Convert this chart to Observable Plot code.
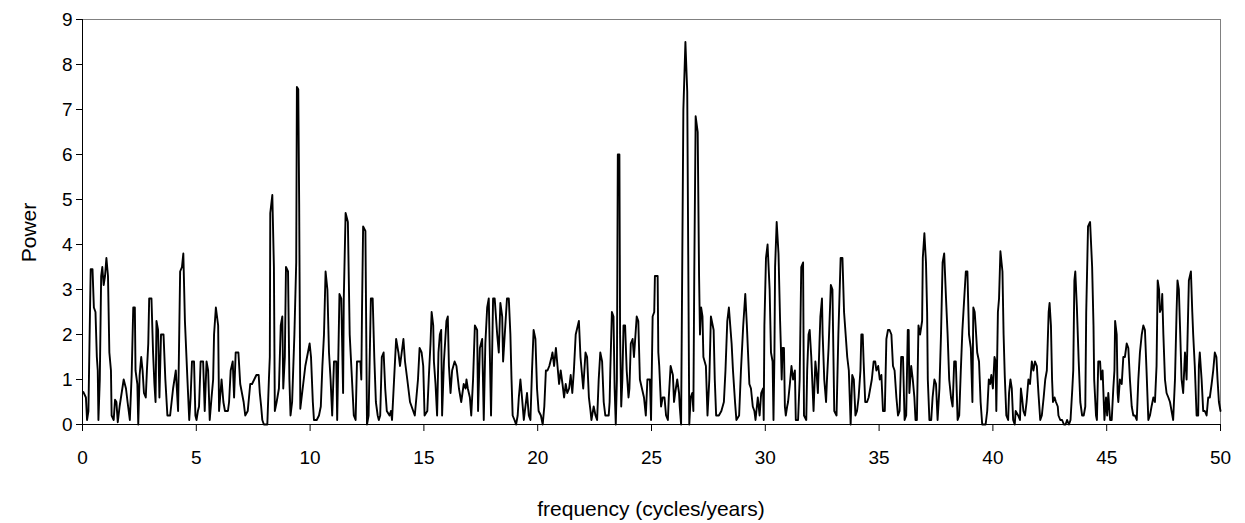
<!DOCTYPE html>
<html><head><meta charset="utf-8">
<script src="https://cdn.jsdelivr.net/npm/d3@7"></script>
<script src="https://cdn.jsdelivr.net/npm/@observablehq/plot@0.6"></script>
<style>html,body{margin:0;padding:0;background:#fff;} svg{display:block}</style>
</head><body><div id="chart"></div>
<script>
// [frequency (cycles/years), power] vertices
const band0_10 = [
[0.04,0.72],[0.15,0.6],[0.2,0.1],[0.26,0.3],[0.31,1.9],[0.36,3.45],[0.44,3.45],[0.5,2.6],[0.57,2.5],[0.63,1.5],
[0.67,1.2],[0.7,0.1],[0.76,1.0],[0.82,3.3],[0.87,3.5],[0.93,3.1],[0.99,3.3],[1.05,3.7],[1.12,3.3],[1.18,1.6],
[1.25,1.2],[1.28,0.2],[1.37,0.1],[1.43,0.55],[1.49,0.5],[1.55,0.05],[1.63,0.4],[1.72,0.7],[1.81,1.0],[1.91,0.8],
[1.98,0.5],[2.08,0.1],[2.16,1.1],[2.23,2.6],[2.3,2.6],[2.33,1.2],[2.41,0.9],[2.45,0.0],[2.51,1.1],[2.58,1.5],
[2.64,1.2],[2.7,0.7],[2.78,0.6],[2.83,1.2],[2.89,1.8],[2.93,2.8],[3.03,2.8],[3.1,1.6],[3.16,0.9],[3.21,0.5],
[3.25,2.3],[3.32,2.1],[3.38,0.6],[3.45,2.0],[3.56,2.0],[3.64,1.0],[3.73,0.2],[3.85,0.2],[3.98,0.8],[4.1,1.2],
[4.2,0.3],[4.29,3.4],[4.37,3.5],[4.43,3.8],[4.5,2.3],[4.61,1.0],[4.69,0.1],[4.75,0.6],[4.81,1.4],[4.9,1.4],
[4.96,0.2],[5.01,0.1],[5.07,0.3],[5.12,0.4],[5.19,1.4],[5.3,1.4],[5.37,0.3],[5.45,1.4],[5.52,1.2],[5.59,0.1],
[5.67,0.6],[5.74,1.0],[5.78,2.0],[5.86,2.6],[5.96,2.2],[6.0,0.3],[6.11,1.0],[6.19,0.5],[6.26,0.3],[6.39,0.3],
[6.44,0.5],[6.51,1.2],[6.6,1.4],[6.66,0.6],[6.73,1.6],[6.85,1.6],[6.93,0.9],[7.08,0.5],[7.15,0.2],[7.26,0.3],
[7.37,0.9],[7.45,0.9],[7.64,1.1],[7.74,1.1],[7.79,0.7],[7.85,0.4],[7.9,0.1],[7.97,0.0],[8.12,0.0],[8.19,1.0],
[8.23,1.5],[8.25,4.7],[8.34,5.1],[8.41,3.5],[8.45,0.3],[8.53,0.5],[8.63,0.8],[8.71,2.2],[8.78,2.4],[8.82,0.8],
[8.89,1.5],[8.94,3.5],[9.03,3.4],[9.09,1.0],[9.14,0.2],[9.21,0.5],[9.31,2.0],[9.39,3.6],[9.42,7.5],[9.48,7.45],
[9.52,4.9],[9.57,0.35],[9.79,1.3],[9.98,1.8]
];
const band10_20 = [
[10.04,1.5],[10.12,0.5],[10.17,0.1],[10.29,0.1],[10.39,0.2],[10.47,0.4],[10.54,1.3],[10.61,2.0],[10.68,3.4],[10.76,3.0],
[10.83,1.6],[10.9,1.0],[10.97,0.2],[11.05,1.4],[11.15,1.4],[11.19,0.1],[11.29,2.9],[11.37,2.8],[11.45,0.7],[11.48,2.8],
[11.56,4.7],[11.66,4.5],[11.74,2.0],[11.82,1.2],[11.92,0.2],[12.0,0.1],[12.06,1.4],[12.21,1.4],[12.25,1.0],[12.28,2.5],
[12.33,4.4],[12.43,4.3],[12.5,0.0],[12.57,0.2],[12.67,2.8],[12.75,2.8],[12.82,1.5],[12.89,0.5],[12.97,0.2],[13.02,0.1],
[13.08,0.2],[13.15,1.5],[13.23,1.6],[13.3,0.8],[13.37,0.3],[13.49,0.2],[13.55,0.3],[13.6,0.1],[13.69,1.0],[13.78,1.9],
[13.88,1.6],[13.95,1.3],[14.1,1.9],[14.17,1.4],[14.27,1.0],[14.39,0.5],[14.53,0.3],[14.6,0.2],[14.74,1.0],[14.81,1.7],
[14.9,1.6],[14.97,1.3],[15.03,0.2],[15.15,0.3],[15.22,1.1],[15.29,1.8],[15.34,2.5],[15.41,2.2],[15.44,1.4],[15.51,0.9],
[15.58,0.2],[15.64,1.6],[15.7,2.0],[15.76,2.1],[15.8,0.2],[15.88,1.4],[15.99,2.3],[16.05,2.4],[16.1,1.3],[16.17,0.7],
[16.24,1.2],[16.35,1.4],[16.43,1.3],[16.54,0.8],[16.64,0.5],[16.75,0.9],[16.83,0.8],[16.87,1.0],[16.93,0.8],[17.02,0.6],
[17.08,0.2],[17.16,1.0],[17.24,2.2],[17.34,2.1],[17.38,0.3],[17.46,1.7],[17.56,1.9],[17.63,0.1],[17.7,1.8],[17.78,2.6],
[17.85,2.8],[17.95,0.2],[18.04,2.8],[18.11,2.8],[18.22,2.0],[18.29,1.6],[18.36,2.7],[18.44,2.4],[18.48,1.4],[18.65,2.8],
[18.73,2.8],[18.8,2.0],[18.85,1.0],[18.9,0.2],[18.98,0.1],[19.05,0.0],[19.12,0.2],[19.17,0.6],[19.24,1.0],[19.31,0.6],
[19.39,0.1],[19.46,0.4],[19.53,0.7],[19.61,0.2],[19.68,0.1],[19.75,1.2],[19.82,2.1],[19.9,1.9],[19.97,0.8]
];
const band20_30 = [
[20.04,0.3],[20.14,0.2],[20.22,0.0],[20.29,0.4],[20.36,1.2],[20.43,1.2],[20.51,1.3],[20.61,1.5],[20.65,1.6],[20.72,1.3],
[20.8,1.7],[20.87,1.3],[20.94,0.9],[21.01,1.2],[21.09,0.9],[21.16,0.6],[21.23,0.9],[21.3,0.7],[21.38,0.8],[21.45,1.1],
[21.52,0.7],[21.59,1.2],[21.67,2.0],[21.81,2.3],[21.88,1.5],[22.0,0.8],[22.1,1.6],[22.17,1.5],[22.25,0.6],[22.32,0.3],
[22.36,0.1],[22.46,0.4],[22.54,0.2],[22.61,0.1],[22.68,1.0],[22.75,1.6],[22.83,1.4],[22.9,0.5],[22.97,0.2],[23.12,0.2],
[23.16,0.5],[23.19,1.2],[23.26,2.5],[23.33,2.4],[23.38,0.8],[23.43,0.0],[23.48,1.0],[23.52,6.0],[23.59,6.0],[23.62,2.0],
[23.67,0.4],[23.72,1.0],[23.77,2.2],[23.84,2.2],[23.91,1.2],[23.99,0.6],[24.03,0.8],[24.09,1.8],[24.17,1.9],[24.23,1.5],
[24.35,2.4],[24.42,2.3],[24.49,1.0],[24.67,0.6],[24.75,0.2],[24.82,1.0],[24.93,1.0],[24.98,0.1],[25.05,2.4],[25.12,2.5],
[25.15,3.3],[25.27,3.3],[25.3,1.6],[25.34,1.3],[25.42,0.4],[25.49,0.6],[25.57,0.6],[25.64,0.2],[25.72,0.1],[25.76,0.6],
[25.84,1.3],[25.94,1.1],[25.99,0.5],[26.04,0.7],[26.13,1.0],[26.21,0.7],[26.24,0.4],[26.3,0.0],[26.4,7.0],[26.49,8.5],
[26.57,7.4],[26.66,0.0],[26.72,0.6],[26.79,0.7],[26.84,0.3],[26.88,3.4],[26.94,6.85],[27.03,6.5],[27.09,3.3],[27.13,2.0],
[27.18,2.6],[27.24,2.4],[27.28,1.5],[27.39,1.3],[27.46,0.2],[27.54,1.0],[27.61,2.4],[27.73,2.1],[27.78,1.0],[27.84,0.2],
[27.96,0.2],[28.07,0.3],[28.18,0.5],[28.25,1.2],[28.33,2.3],[28.4,2.6],[28.52,1.8],[28.58,1.2],[28.67,0.5],[28.73,0.1],
[28.85,0.2],[28.93,1.2],[29.03,2.2],[29.12,2.9],[29.19,2.2],[29.3,0.9],[29.37,0.8],[29.45,0.4],[29.52,0.3],[29.57,0.1],
[29.67,0.6],[29.75,0.2],[29.82,0.7],[29.9,0.8],[29.93,0.1],[29.96,2.2]
];
const band30_40 = [
[30.03,3.7],[30.1,4.0],[30.19,3.0],[30.25,1.6],[30.32,1.4],[30.36,0.1],[30.4,1.5],[30.43,3.5],[30.5,4.5],[30.58,3.8],
[30.65,2.3],[30.68,1.8],[30.72,1.0],[30.76,1.7],[30.82,1.7],[30.86,0.4],[30.9,0.2],[30.96,0.4],[31.0,0.5],[31.08,0.9],
[31.15,1.3],[31.22,1.0],[31.3,1.2],[31.34,0.1],[31.44,0.1],[31.51,1.0],[31.58,3.5],[31.66,3.6],[31.7,0.2],[31.8,0.1],
[31.84,1.2],[31.9,2.0],[31.95,2.1],[32.02,1.5],[32.12,0.3],[32.2,1.4],[32.26,1.1],[32.31,0.7],[32.38,1.8],[32.42,2.4],
[32.49,2.8],[32.52,2.0],[32.59,1.0],[32.67,0.5],[32.71,1.0],[32.78,1.7],[32.88,3.1],[32.95,3.0],[33.03,0.3],[33.13,0.2],
[33.21,2.0],[33.31,3.7],[33.39,3.7],[33.46,2.5],[33.53,2.0],[33.6,1.5],[33.67,1.2],[33.75,0.0],[33.82,1.1],[33.89,1.0],
[33.96,0.2],[34.03,0.3],[34.1,0.6],[34.18,1.2],[34.22,2.0],[34.28,2.0],[34.32,1.4],[34.39,0.5],[34.47,0.5],[34.54,0.6],
[34.61,0.8],[34.68,1.0],[34.76,1.4],[34.83,1.4],[34.88,1.2],[34.96,1.3],[35.03,1.0],[35.1,1.1],[35.17,0.3],[35.25,0.3],
[35.32,1.9],[35.39,2.1],[35.46,2.1],[35.54,2.0],[35.61,1.3],[35.68,1.2],[35.76,0.6],[35.83,0.2],[35.9,0.3],[35.97,1.5],
[36.05,1.5],[36.12,0.1],[36.19,0.2],[36.26,2.1],[36.3,2.1],[36.33,0.7],[36.41,1.3],[36.48,1.0],[36.55,0.6],[36.6,0.1],
[36.66,0.1],[36.73,2.2],[36.8,2.0],[36.89,2.3],[36.92,3.7],[36.99,4.25],[37.06,3.6],[37.11,2.5],[37.14,1.0],[37.21,0.1],
[37.29,0.1],[37.35,0.6],[37.43,1.0],[37.5,0.9],[37.57,0.1],[37.65,0.8],[37.72,2.0],[37.79,3.6],[37.86,3.8],[37.94,2.8],
[38.01,2.0],[38.08,1.0],[38.16,0.6],[38.23,0.4],[38.3,1.4],[38.37,1.4],[38.45,0.1],[38.52,0.2],[38.59,1.2],[38.66,2.1],
[38.74,2.8],[38.81,3.4],[38.88,3.4],[38.95,2.0],[39.03,1.7],[39.1,0.5],[39.14,2.6],[39.2,2.5],[39.24,2.2],[39.31,1.6],
[39.39,1.4],[39.46,0.5],[39.53,0.0],[39.6,0.0],[39.68,0.0],[39.75,0.3],[39.82,1.0],[39.88,0.9],[39.93,1.1]
];
const band40_50 = [
[40.0,0.8],[40.07,1.5],[40.12,1.4],[40.15,0.3],[40.22,2.5],[40.27,2.8],[40.33,3.85],[40.42,3.4],[40.47,2.0],[40.52,1.1],
[40.59,0.2],[40.67,0.1],[40.71,0.7],[40.77,1.0],[40.83,0.8],[40.89,0.1],[40.96,0.0],[41.0,0.3],[41.11,0.2],[41.19,0.1],
[41.23,0.8],[41.28,0.6],[41.34,0.3],[41.41,0.2],[41.48,0.5],[41.56,1.0],[41.63,0.9],[41.71,1.4],[41.78,1.2],[41.85,1.4],
[41.93,1.3],[42.0,0.7],[42.08,0.1],[42.15,0.2],[42.23,0.6],[42.3,1.0],[42.37,1.2],[42.45,2.5],[42.49,2.7],[42.55,2.2],
[42.6,1.0],[42.64,0.5],[42.71,0.6],[42.77,0.5],[42.85,0.4],[42.88,0.2],[42.96,0.1],[43.04,0.1],[43.12,0.0],[43.19,0.0],
[43.26,0.1],[43.34,0.0],[43.41,0.1],[43.49,0.8],[43.53,1.2],[43.58,3.2],[43.62,3.4],[43.69,2.6],[43.77,1.4],[43.84,0.5],
[43.92,0.2],[43.99,0.2],[44.06,0.4],[44.1,2.5],[44.18,4.4],[44.27,4.5],[44.36,3.5],[44.42,2.2],[44.45,1.0],[44.53,0.2],
[44.57,0.1],[44.63,1.4],[44.71,1.4],[44.75,1.0],[44.82,1.2],[44.9,0.1],[44.97,0.6],[45.02,0.2],[45.07,0.7],[45.15,0.1],
[45.22,0.1],[45.29,0.8],[45.34,1.2],[45.37,2.3],[45.44,2.0],[45.48,0.7],[45.51,0.5],[45.58,1.0],[45.66,0.9],[45.73,1.5],
[45.8,1.5],[45.88,1.8],[45.95,1.7],[46.02,1.0],[46.1,0.4],[46.17,0.2],[46.24,0.2],[46.32,0.1],[46.39,1.0],[46.46,1.6],
[46.54,2.0],[46.61,2.2],[46.68,2.1],[46.75,1.2],[46.83,0.1],[46.9,0.2],[46.97,0.4],[47.05,0.6],[47.12,0.5],[47.19,1.3],
[47.24,3.2],[47.3,3.0],[47.34,2.5],[47.41,2.6],[47.44,2.9],[47.49,2.0],[47.56,1.0],[47.63,0.7],[47.71,0.6],[47.78,0.5],
[47.85,0.3],[47.92,0.1],[48.0,1.0],[48.07,2.5],[48.11,3.2],[48.17,3.0],[48.22,2.2],[48.29,1.0],[48.36,0.7],[48.44,1.6],
[48.51,1.0],[48.61,3.2],[48.7,3.4],[48.76,2.5],[48.8,2.0],[48.87,1.3],[48.95,0.2],[49.02,0.2],[49.05,1.3],[49.09,1.6],
[49.17,1.0],[49.24,0.3],[49.31,0.3],[49.39,0.2],[49.46,0.6],[49.53,0.6],[49.61,0.9],[49.68,1.2],[49.75,1.6],[49.82,1.5],
[49.87,1.0],[49.93,0.5],[50.0,0.3]
];
const xTicks = [0, 5, 10, 15, 20, 25, 30, 35, 40, 45, 50];
const yTicks = [0, 1, 2, 3, 4, 5, 6, 7, 8, 9];
const xTitle = "frequency (cycles/years)";
const yTitle = "Power";

const all = [...band0_10, ...band10_20, ...band20_30, ...band30_40, ...band40_50];
const freq = all.map(d => d[0]);
const power = all.map(d => d[1]);
const data = freq.map((f, i) => ({f, p: power[i]}));

const W = 1245, H = 523, mL = 82, mR = 25, mT = 19, mB = 99;
const font = "'Liberation Sans', Arial, sans-serif";

const chart = Plot.plot({
  width: W, height: H,
  marginLeft: mL, marginRight: mR, marginTop: mT, marginBottom: mB,
  style: {fontFamily: font, fontSize: "19px", color: "#000", background: "#fff"},
  x: {domain: [0, 50]},
  y: {domain: [0, 9]},
  marks: [
    Plot.frame({stroke: "#808080", strokeWidth: 1}),
    Plot.line(data, {x: "f", y: "p", stroke: "#000", strokeWidth: 1.9}),
    Plot.ruleX([0], {stroke: "#000", strokeWidth: 1}),
    Plot.ruleY([0], {stroke: "#000", strokeWidth: 1}),
    Plot.axisX({ticks: xTicks, tickSize: 7, tickPadding: 19, label: null, stroke: "#000", fill: "#000", fontSize: 19}),
    Plot.axisY({ticks: yTicks, tickSize: 6, tickPadding: 4, label: null, stroke: "#000", fill: "#000", fontSize: 19})
  ]
});

// axis titles (plain SVG text, positioned relative to the plot frame)
const svg = d3.select(chart);
const frameMidX = mL + (W - mL - mR) / 2;
const frameMidY = mT + (H - mT - mB) / 2;
svg.append("text")
  .attr("x", frameMidX).attr("y", H - mB + 84)
  .attr("text-anchor", "middle").attr("dominant-baseline", "central")
  .attr("font-family", font).attr("font-size", 21).attr("fill", "#000")
  .text(xTitle);
svg.append("text")
  .attr("transform", `translate(${mL - 54},${frameMidY + 11}) rotate(-90)`)
  .attr("text-anchor", "middle").attr("dominant-baseline", "central")
  .attr("font-family", font).attr("font-size", 21).attr("fill", "#000")
  .text(yTitle);

document.getElementById("chart").appendChild(chart);
</script>
</body></html>
